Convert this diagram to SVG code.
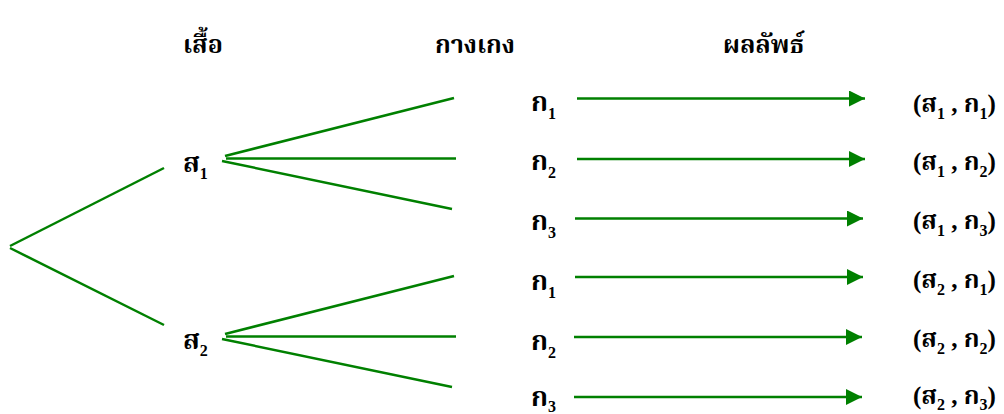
<svg xmlns="http://www.w3.org/2000/svg" width="1004" height="414" viewBox="0 0 1004 414">
<defs>
<marker id="ah" markerWidth="16" markerHeight="16" viewBox="0 0 16 16" refX="16" refY="8" orient="auto" markerUnits="userSpaceOnUse">
<path d="M0,0 L16,8 L0,16 Z" fill="#008000"/>
</marker>
<style>
.t{font-family:"Liberation Serif","Noto Serif Thai","Noto Sans Thai",serif;font-weight:bold;font-size:27px;fill:#000}
.h{font-size:25px}
.r{font-size:25px}
.s{font-size:16px}
.ln{stroke:#008000;stroke-width:2.5;fill:none}
</style>
</defs>
<g id="headers">
<text class="t h" x="183" y="53">เสื้อ</text>
<text class="t h" x="435" y="53">กางเกง</text>
<text class="t h" x="723" y="53">ผลลัพธ์</text>
</g>
<g id="connectors">
<line class="ln" x1="10" y1="246" x2="164" y2="168"/>
<line class="ln" x1="10" y1="248" x2="164" y2="325"/>
<line class="ln" x1="225" y1="156" x2="454" y2="98"/>
<line class="ln" x1="226" y1="158.5" x2="456" y2="158.5"/>
<line class="ln" x1="222" y1="161" x2="452" y2="209"/>
<line class="ln" x1="225" y1="334" x2="454" y2="276"/>
<line class="ln" x1="226" y1="336.5" x2="456" y2="336.5"/>
<line class="ln" x1="222" y1="339" x2="452" y2="387"/>
<line class="ln" x1="577" y1="98.5" x2="865" y2="98.5" marker-end="url(#ah)"/>
<line class="ln" x1="577" y1="159" x2="865" y2="159" marker-end="url(#ah)"/>
<line class="ln" x1="575" y1="218.5" x2="863" y2="218.5" marker-end="url(#ah)"/>
<line class="ln" x1="575" y1="277" x2="863" y2="277" marker-end="url(#ah)"/>
<line class="ln" x1="574" y1="337" x2="862" y2="337" marker-end="url(#ah)"/>
<line class="ln" x1="574" y1="397" x2="862" y2="397" marker-end="url(#ah)"/>
</g>
<g id="shirt1"><text class="t" x="183" y="172">ส<tspan class="s" dy="7">1</tspan></text></g>
<g id="shirt2"><text class="t" x="183" y="349">ส<tspan class="s" dy="7">2</tspan></text></g>
<g id="pants1a"><text class="t" x="531" y="111">ก<tspan class="s" dy="8">1</tspan></text></g>
<g id="pants1b"><text class="t" x="531" y="170">ก<tspan class="s" dy="8">2</tspan></text></g>
<g id="pants1c"><text class="t" x="531" y="230">ก<tspan class="s" dy="8">3</tspan></text></g>
<g id="pants2a"><text class="t" x="531" y="290">ก<tspan class="s" dy="8">1</tspan></text></g>
<g id="pants2b"><text class="t" x="531" y="350">ก<tspan class="s" dy="8">2</tspan></text></g>
<g id="pants2c"><text class="t" x="531" y="406">ก<tspan class="s" dy="6">3</tspan></text></g>
<g id="r1"><text class="t r" x="913" y="112">(ส<tspan class="s" dy="7">1</tspan><tspan dy="-7"> , ก</tspan><tspan class="s" dy="7">1</tspan><tspan dy="-7">)</tspan></text></g>
<g id="r2"><text class="t r" x="913" y="170">(ส<tspan class="s" dy="7">1</tspan><tspan dy="-7"> , ก</tspan><tspan class="s" dy="7">2</tspan><tspan dy="-7">)</tspan></text></g>
<g id="r3"><text class="t r" x="913" y="229">(ส<tspan class="s" dy="7">1</tspan><tspan dy="-7"> , ก</tspan><tspan class="s" dy="7">3</tspan><tspan dy="-7">)</tspan></text></g>
<g id="r4"><text class="t r" x="913" y="288">(ส<tspan class="s" dy="7">2</tspan><tspan dy="-7"> , ก</tspan><tspan class="s" dy="7">1</tspan><tspan dy="-7">)</tspan></text></g>
<g id="r5"><text class="t r" x="913" y="347">(ส<tspan class="s" dy="7">2</tspan><tspan dy="-7"> , ก</tspan><tspan class="s" dy="7">2</tspan><tspan dy="-7">)</tspan></text></g>
<g id="r6"><text class="t r" x="913" y="404">(ส<tspan class="s" dy="6">2</tspan><tspan dy="-6"> , ก</tspan><tspan class="s" dy="6">3</tspan><tspan dy="-6">)</tspan></text></g>
</svg>
